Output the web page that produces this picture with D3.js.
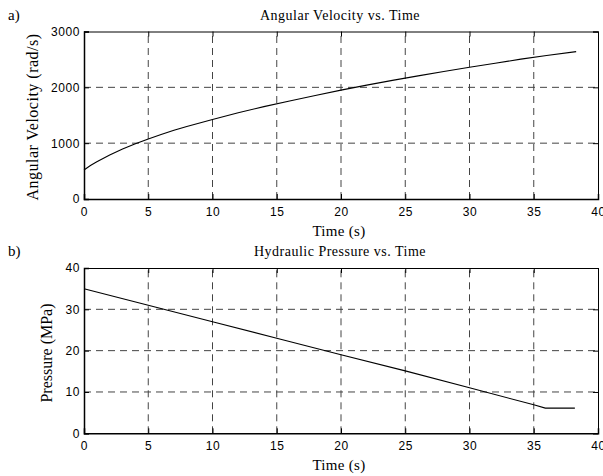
<!DOCTYPE html>
<html><head><meta charset="utf-8">
<script src="https://cdn.jsdelivr.net/npm/d3@7"></script>
<style>body{margin:0;background:#fff}svg{display:block}</style>
</head><body>
<svg id="c" width="603" height="476"></svg>
<script>
// Data
const velTime = [0,0.5,1,2,3,4,5,6,7,8,10,12,14,16,18,20,22,24,26,28,30,32,34,36,38.3];
const velValues = [520,600,668,790,895,988,1075,1155,1230,1300,1425,1545,1655,1755,1855,1950,2040,2125,2205,2285,2360,2430,2505,2570,2640];
const presTime = [0,5,10,15,20,25,30,35,35.9,38.2];
const presValues = [35,31,27,23,19,15.1,11,6.9,6.1,6.1];
const xTicks = [0,5,10,15,20,25,30,35,40];
const velTicks = [0,1000,2000,3000];
const presTicks = [0,10,20,30,40];

const svg = d3.select("#c");
const serif = "'Liberation Serif','Times New Roman',serif";
const sans = "'Liberation Sans',Arial,sans-serif";
const fmt = d3.format("d");

function panel(o){
  const g = svg.append("g");
  const x = d3.scaleLinear().domain([0,40]).range([84,598]);
  const y = d3.scaleLinear().domain(o.ydom).range([o.y0,o.y1]);
  // grid
  g.selectAll(".gx").data(xTicks.slice(1,-1)).enter().append("line")
    .attr("x1",d=>x(d)).attr("x2",d=>x(d)).attr("y1",o.y0).attr("y2",o.y1)
    .attr("stroke","#444").attr("stroke-width",1).attr("stroke-dasharray","7,5");
  g.selectAll(".gy").data(o.ticks.slice(1,-1)).enter().append("line")
    .attr("y1",d=>y(d)).attr("y2",d=>y(d)).attr("x1",84).attr("x2",598)
    .attr("stroke","#444").attr("stroke-width",1).attr("stroke-dasharray","7,5");
  // axes
  const ax = d3.axisBottom(x).tickValues(xTicks).tickSize(-5).tickPadding(8).tickFormat(fmt);
  const axg = g.append("g").attr("transform",`translate(0,${o.y0})`).call(ax);
  const ay = d3.axisLeft(y).tickValues(o.ticks).tickSize(-5).tickPadding(4).tickFormat(fmt);
  const ayg = g.append("g").attr("transform","translate(84,0)").call(ay);
  const axt = g.append("g").attr("transform",`translate(0,${o.y1})`).call(d3.axisTop(x).tickValues(xTicks).tickSize(-5).tickFormat(""));
  const ayr = g.append("g").attr("transform","translate(598,0)").call(d3.axisRight(y).tickValues(o.ticks).tickSize(-5).tickFormat(""));
  [axg,ayg,axt,ayr].forEach(a=>{
    a.selectAll(".domain").attr("stroke","#000").attr("stroke-width",1.5);
    a.selectAll(".tick line").attr("stroke","#000");
    a.selectAll("text").attr("font-family",sans).attr("font-size",12).attr("fill","#000").attr("letter-spacing","0.6px");
  });
  axt.selectAll(".domain").attr("stroke-width",1);
  ayr.selectAll(".domain").attr("stroke-width",1);
  // line
  const line = d3.line().x(d=>x(d[0])).y(d=>y(d[1]));
  g.append("path").datum(o.t.map((t,i)=>[t,o.v[i]])).attr("d",line)
    .attr("fill","none").attr("stroke","#000").attr("stroke-width",1.1);
  // texts
  g.append("text").attr("x",340).attr("y",o.y1-12).attr("text-anchor","middle")
    .attr("font-family",serif).attr("font-size",14).attr("letter-spacing","0.5px").text(o.title);
  g.append("text").attr("x",8).attr("y",o.y1-12)
    .attr("font-family",serif).attr("font-size",15).text(o.tag);
  g.append("text").attr("x",339).attr("y",o.y0+37).attr("text-anchor","middle")
    .attr("font-family",serif).attr("font-size",15).attr("letter-spacing","0.3px").text("Time (s)");
  g.append("text").attr("transform",`translate(${o.lx},${o.ly}) rotate(-90)`)
    .attr("text-anchor","middle").attr("font-family",serif).attr("font-size",16)
    .attr("letter-spacing",o.ls).text(o.ylabel);
}

panel({ydom:[0,3000],y0:199,y1:31.5,ticks:velTicks,t:velTime,v:velValues,
  title:"Angular Velocity vs. Time",tag:"a)",ylabel:"Angular Velocity (rad/s)",lx:38,ly:117,ls:"0.5px"});
panel({ydom:[0,40],y0:433.3,y1:268,ticks:presTicks,t:presTime,v:presValues,
  title:"Hydraulic Pressure vs. Time",tag:"b)",ylabel:"Pressure (MPa)",lx:52,ly:353,ls:"0px"});
</script>
</body></html>
